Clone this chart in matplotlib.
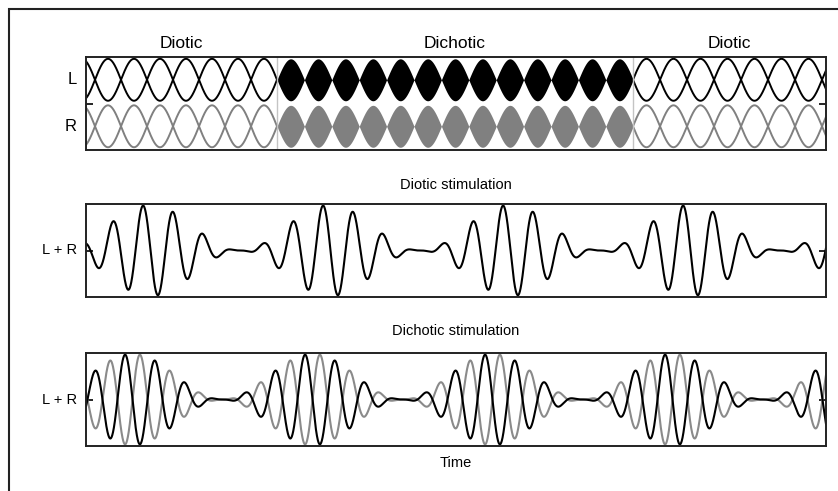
import numpy as np
import matplotlib.pyplot as plt
from matplotlib.patches import Rectangle

plt.rcParams['font.family'] = ['Liberation Sans', 'DejaVu Sans']

# time axis of every panel, in "pixel-like" units (0 = left edge of the boxes)
t_start, t_end = 0, 740

# top panel: three stimulation segments
segment_labels = ['Diotic', 'Dichotic', 'Diotic']
segment_starts = [0, 191, 547]
segment_ends = [191, 547, 740]
lobe_widths = [26.0, 27.4, 27.0]      # distance between envelope crossings
first_crossing = [9, 191, 547]
segment_filled = [False, True, False]

channel_labels = ['L', 'R']
channel_centers = [0.52, -0.50]
channel_amplitude = 0.46
channel_colors = ['black', '#808080']

# lower panels: carrier and beat parameters
carrier_period = 30.0
beat_period = 180.0
diotic_carrier_peak = 57.0
diotic_env_center = 64.0
dichotic_carrier_peak = 39.0
dichotic_env_center = 46.5

t = np.linspace(t_start, t_end, 6000)


def beat_envelope(tt, center):
    return np.cos(np.pi * (tt - center) / beat_period) ** 2


def carrier(tt, peak):
    return np.cos(2 * np.pi * (tt - peak) / carrier_period)


fig = plt.figure(figsize=(8.38, 4.91), dpi=100)
left, width, height = 86 / 838, 740 / 838, 93 / 491
ax_top = fig.add_axes([left, 1 - 150 / 491, width, height])
ax_mid = fig.add_axes([left, 1 - 297 / 491, width, height])
ax_bot = fig.add_axes([left, 1 - 446 / 491, width, height])

# ---- top panel: envelopes per ear
for s0, s1, w, c0, filled in zip(segment_starts, segment_ends, lobe_widths,
                                   first_crossing, segment_filled):
    ts = np.linspace(s0, s1, 1500)
    env = np.sin(np.pi * (ts - c0) / w)
    for yc, col in zip(channel_centers, channel_colors):
        if filled:
            ax_top.fill_between(ts, yc - channel_amplitude * np.abs(env),
                                yc + channel_amplitude * np.abs(env),
                                color=col, lw=0)
        else:
            ax_top.plot(ts, yc + channel_amplitude * env, color=col, lw=1.4)
            ax_top.plot(ts, yc - channel_amplitude * env, color=col, lw=1.4)

for edge in segment_starts[1:]:
    ax_top.axvline(edge, color='#c4c4c4', lw=1.0)

for lab, s0, s1 in zip(segment_labels, segment_starts, segment_ends):
    ax_top.text((s0 + s1) / 2, 1.15, lab, transform=ax_top.get_xaxis_transform(),
                ha='center', va='center', fontsize=12.5)

for lab, yc in zip(channel_labels, channel_centers):
    ax_top.text(-9, yc, lab, ha='right', va='center', fontsize=12)

# ---- middle panel: diotic L + R
diotic = beat_envelope(t, diotic_env_center) * carrier(t, diotic_carrier_peak)
ax_mid.plot(t, diotic, color='black', lw=1.5)
ax_mid.text(-9, 0, 'L + R', ha='right', va='center', fontsize=10.5)

# ---- bottom panel: dichotic L and R
env_dich = beat_envelope(t, dichotic_env_center)
left_ear = env_dich * carrier(t, dichotic_carrier_peak)
right_ear = -left_ear
ax_bot.plot(t, right_ear, color='#8a8a8a', lw=1.5)
ax_bot.plot(t, left_ear, color='black', lw=1.5)
ax_bot.text(-9, 0, 'L + R', ha='right', va='center', fontsize=10.5)

for ax in (ax_top, ax_mid, ax_bot):
    ax.set_xlim(t_start, t_end)
    ax.set_ylim(-1.02, 1.02)
    ax.set_xticks([])
    ax.set_yticks([0])
    ax.tick_params(axis='y', direction='in', left=True, right=True,
                   labelleft=False, length=5, width=1.2)
    for sp in ax.spines.values():
        sp.set_linewidth(1.4)
        sp.set_color('#222222')

fig.text(left + width / 2, 1 - 185 / 491, 'Diotic stimulation',
         ha='center', va='center', fontsize=10.5)
fig.text(left + width / 2, 1 - 331 / 491, 'Dichotic stimulation',
         ha='center', va='center', fontsize=10.5)
fig.text(left + width / 2, 1 - 463 / 491, 'Time',
         ha='center', va='center', fontsize=10.5)

# outer frame (only left and top edges fall inside the picture)
fig.add_artist(Rectangle((9 / 838, -0.2), 1.3, 1.2 - 9 / 491,
                         transform=fig.transFigure, fill=False,
                         lw=1.5, ec='#222222'))

fig.savefig('out.png', dpi=100)
